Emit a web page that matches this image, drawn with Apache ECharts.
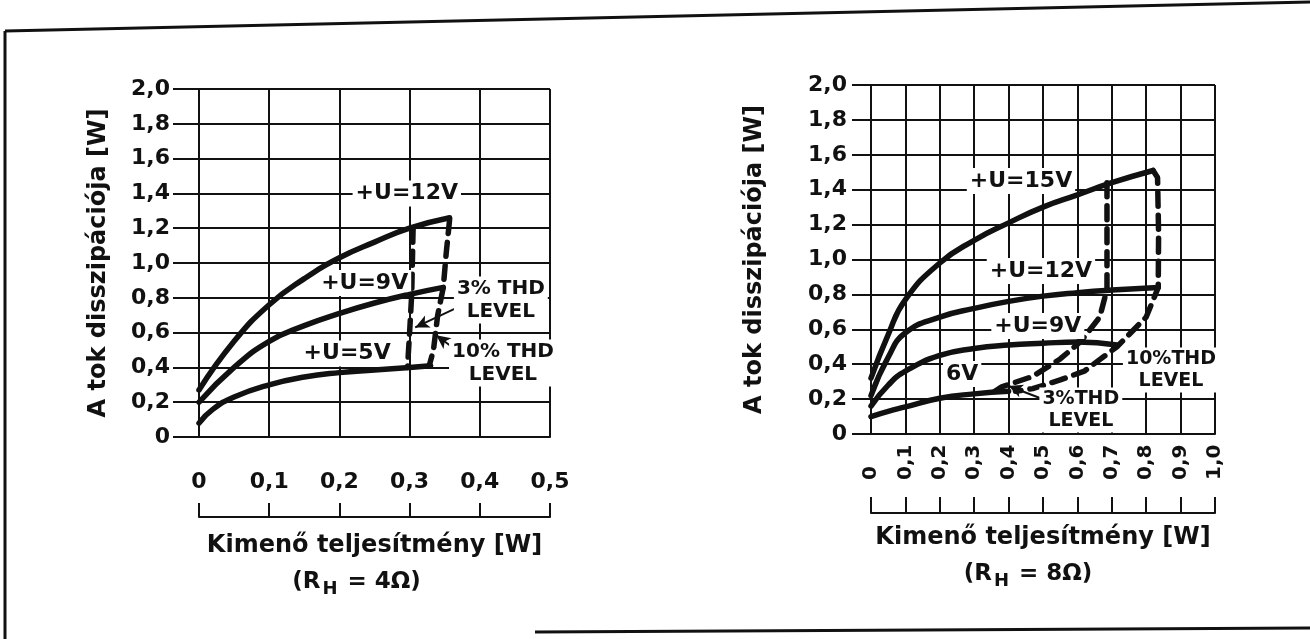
<!DOCTYPE html>
<html>
<head>
<meta charset="utf-8">
<script src="https://cdn.jsdelivr.net/npm/echarts@6/dist/echarts.min.js"></script>
<style>
html,body{margin:0;padding:0;background:#fff;}
#c{width:1310px;height:639px;}
</style>
</head>
<body>
<div id="c"></div>
<script>
// ---------- DATA ----------
// Left chart: R_H = 4 Ohm  (x: output power W, y: package dissipation W)
const left_U12 = [[0,0.27],[0.05,0.55],[0.1,0.76],[0.15,0.91],[0.2,1.03],[0.25,1.12],[0.3,1.20],[0.357,1.26]];
const left_U9  = [[0,0.20],[0.05,0.40],[0.1,0.55],[0.15,0.64],[0.2,0.71],[0.25,0.77],[0.3,0.82],[0.348,0.86]];
const left_U5  = [[0,0.08],[0.02,0.16],[0.05,0.23],[0.1,0.30],[0.15,0.345],[0.2,0.37],[0.25,0.385],[0.3,0.40],[0.33,0.41]];
const left_THD3  = [[0.305,1.20],[0.303,0.82],[0.300,0.60],[0.297,0.40]];
const left_THD10 = [[0.357,1.25],[0.352,1.05],[0.348,0.86],[0.340,0.70],[0.334,0.50],[0.328,0.41]];

// Right chart: R_H = 8 Ohm
const right_U15 = [[0,0.32],[0.05,0.57],[0.1,0.77],[0.2,0.98],[0.3,1.11],[0.4,1.21],[0.5,1.30],[0.6,1.37],[0.7,1.44],[0.82,1.51]];
const right_U12 = [[0,0.22],[0.05,0.44],[0.1,0.58],[0.2,0.67],[0.3,0.72],[0.4,0.76],[0.5,0.79],[0.6,0.81],[0.7,0.825],[0.835,0.84]];
const right_U9  = [[0,0.16],[0.05,0.28],[0.1,0.36],[0.2,0.45],[0.3,0.49],[0.4,0.51],[0.5,0.52],[0.6,0.527],[0.715,0.51]];
const right_U6  = [[0,0.10],[0.05,0.13],[0.1,0.155],[0.2,0.205],[0.3,0.23],[0.4,0.245]];
const right_THD3  = [[0.686,1.44],[0.686,0.83],[0.665,0.67],[0.61,0.53],[0.55,0.43],[0.47,0.33],[0.38,0.27],[0.36,0.245]];
const right_THD10 = [[0.82,1.51],[0.833,1.47],[0.836,1.15],[0.835,0.84],[0.80,0.67],[0.715,0.50],[0.62,0.36],[0.55,0.31],[0.47,0.26],[0.42,0.245]];

// Tick labels
const yTickLabels = ['0','0,2','0,4','0,6','0,8','1,0','1,2','1,4','1,6','1,8','2,0'];
const xTickLabelsLeft = ['0','0,1','0,2','0,3','0,4','0,5'];
const xTickLabelsRight = ['0','0,1','0,2','0,3','0,4','0,5','0,6','0,7','0,8','0,9','1,0'];

// Texts
const yTitle = 'A tok disszipációja [W]';
const xTitle = 'Kimenő teljesítmény [W]';

// ---------- STYLE / LAYOUT ----------
const FONT = '"DejaVu Sans", sans-serif';
const BLACK = '#111';
const GRID_W = 2;
const CURVE_W = 5.5;

function tickFmt(labels, step){
  return function(v){ const i = Math.round(v/step); return labels[i] !== undefined ? labels[i] : ''; };
}

// label annotations (text + anchor in data units) – positions only, not data
const leftNotes = [
  {text:'+U=12V', at:[0.296,1.40]},
  {text:'+U=9V',  at:[0.236,0.885]},
  {text:'+U=5V',  at:[0.211,0.48]},
  {text:'3% THD\nLEVEL', at:[0.43,0.787], fs:20},
  {text:'10% THD\nLEVEL', at:[0.433,0.425], fs:20}
];
const rightNotes = [
  {text:'+U=15V', at:[0.436,1.45]},
  {text:'+U=12V', at:[0.494,0.934]},
  {text:'+U=9V',  at:[0.485,0.619]},
  {text:'6V',     at:[0.265,0.344]},
  {text:'10%THD\nLEVEL', at:[0.872,0.367], fs:19},
  {text:'3%THD\nLEVEL',  at:[0.61,0.1375], fs:19}
];
const leftArrows = [
  [[0.376,0.759],[0.308,0.630]],
  [[0.372,0.483],[0.338,0.585]]
];
const rightArrows = [
  [[0.491,0.206],[0.40,0.275]]
];

function markPointsFrom(notes){
  return {
    symbol:'rect', symbolSize:0, silent:true,
    data: notes.map(n => ({
      coord:n.at, value:0,
      label:{
        show:true, position:'inside', formatter:n.text,
        color:BLACK, fontFamily:FONT, fontWeight:'bold',
        fontSize:n.fs || 22, lineHeight:(n.fs||22)+3,
        backgroundColor:'#fff', padding:[1,3,0,3], align:'center'
      }
    }))
  };
}
function markLinesFrom(arrs){
  return {
    silent:true, symbol:['none','arrow'], symbolSize:[10,14],
    lineStyle:{color:BLACK, width:2, type:'solid'},
    label:{show:false},
    data: arrs.map(a => [{coord:a[0]},{coord:a[1]}])
  };
}

function solid(data, xi, extra){
  return Object.assign({
    type:'line', data:data, xAxisIndex:xi, yAxisIndex:xi,
    smooth:0.5, showSymbol:false, symbol:'none',
    lineStyle:{color:BLACK, width:CURVE_W, cap:'round', join:'round'},
    z:5, silent:true, animation:false
  }, extra||{});
}
function dashed(data, xi){
  return {
    type:'line', data:data, xAxisIndex:xi, yAxisIndex:xi,
    smooth:false, showSymbol:false, symbol:'none',
    lineStyle:{color:BLACK, width:CURVE_W, type:[14,9], cap:'round'},
    z:4, silent:true, animation:false
  };
}

function mainX(gi, max, labels, rightChart){
  return {
    type:'value', gridIndex:gi, min:0, max:max, interval:0.1,
    axisLine:{show:true, lineStyle:{color:BLACK, width:GRID_W}},
    axisTick:{show:false},
    splitLine:{show:true, lineStyle:{color:BLACK, width:GRID_W}},
    axisLabel: rightChart ? {
      show:true, rotate:90, align:'left', verticalAlign:'middle', margin:46,
      formatter:tickFmt(labels,0.1), color:BLACK, fontFamily:FONT, fontWeight:'bold', fontSize:20
    } : {
      show:true, margin:34, formatter:tickFmt(labels,0.1),
      color:BLACK, fontFamily:FONT, fontWeight:'bold', fontSize:22
    }
  };
}
function mainY(gi, tickLen, labelMargin, nameGap, fs){
  return {
    type:'value', gridIndex:gi, min:0, max:2, interval:0.2,
    axisLine:{show:true, lineStyle:{color:BLACK, width:GRID_W}},
    axisTick:{show:true, length:tickLen, inside:false, lineStyle:{color:BLACK, width:GRID_W}},
    splitLine:{show:true, lineStyle:{color:BLACK, width:GRID_W}},
    axisLabel:{show:true, margin:labelMargin, formatter:tickFmt(yTickLabels,0.2),
      color:BLACK, fontFamily:FONT, fontWeight:'bold', fontSize:fs},
    name:yTitle, nameLocation:'middle', nameGap:nameGap,
    nameTextStyle:{color:BLACK, fontFamily:FONT, fontWeight:'bold', fontSize:24}
  };
}
function bracketX(gi, max, ohm, gap, shift){
  return {
    type:'value', gridIndex:gi, min:0, max:max, interval:0.1,
    axisLine:{show:true, lineStyle:{color:BLACK, width:GRID_W}},
    axisTick:{show:false}, axisLabel:{show:false},
    splitLine:{show:true, lineStyle:{color:BLACK, width:GRID_W}},
    name:'{t|' + xTitle + '}\n{p|(R}{s|H}{p| = ' + ohm + 'Ω)}{g| }',
    nameLocation:'middle', nameGap:gap,
    nameTextStyle:{
      color:BLACK, fontFamily:FONT, fontWeight:'bold', verticalAlign:'top', align:'center',
      rich:{
        t:{fontSize:24, fontWeight:'bold', fontFamily:FONT, color:BLACK, lineHeight:37},
        p:{fontSize:23, fontWeight:'bold', fontFamily:FONT, color:BLACK, lineHeight:37},
        s:{fontSize:18, fontWeight:'bold', fontFamily:FONT, color:BLACK, lineHeight:37, padding:[14,2,0,2]},
        g:{width:shift, fontSize:10, lineHeight:37}
      }
    }
  };
}
function hiddenY(gi){
  return {type:'value', gridIndex:gi, min:0, max:1, show:false};
}

const chart = echarts.init(document.getElementById('c'), null, {renderer:'canvas'});
chart.setOption({
  animation:false,
  backgroundColor:'#fff',
  grid:[
    {left:199, top:89, width:351, height:348},
    {left:871, top:85, width:344, height:349},
    {left:199, top:503, width:351, height:14},
    {left:871, top:497, width:344, height:16}
  ],
  xAxis:[
    mainX(0, 0.5, xTickLabelsLeft, false),
    mainX(1, 1.0, xTickLabelsRight, true),
    bracketX(2, 0.5, '4', 10, 36),
    bracketX(3, 1.0, '8', 6, 30)
  ],
  yAxis:[
    mainY(0, 26, 29, 88, 22),
    mainY(1, 19, 24, 104, 22),
    hiddenY(2),
    hiddenY(3)
  ],
  series:[
    solid(left_U12, 0, {markPoint:markPointsFrom(leftNotes), markLine:markLinesFrom(leftArrows)}),
    solid(left_U9, 0),
    solid(left_U5, 0),
    dashed(left_THD3, 0),
    dashed(left_THD10, 0),
    solid(right_U15, 1, {markPoint:markPointsFrom(rightNotes), markLine:markLinesFrom(rightArrows)}),
    solid(right_U12, 1),
    solid(right_U9, 1),
    solid(right_U6, 1),
    dashed(right_THD3, 1),
    dashed(right_THD10, 1)
  ],
  graphic:[
    {type:'line', silent:true, shape:{x1:5,y1:31,x2:1310,y2:2}, style:{stroke:BLACK, lineWidth:3}},
    {type:'line', silent:true, shape:{x1:5,y1:31,x2:5,y2:639}, style:{stroke:BLACK, lineWidth:3}},
    {type:'line', silent:true, shape:{x1:535,y1:632,x2:1310,y2:628}, style:{stroke:BLACK, lineWidth:3}}
  ]
});
</script>
</body>
</html>
